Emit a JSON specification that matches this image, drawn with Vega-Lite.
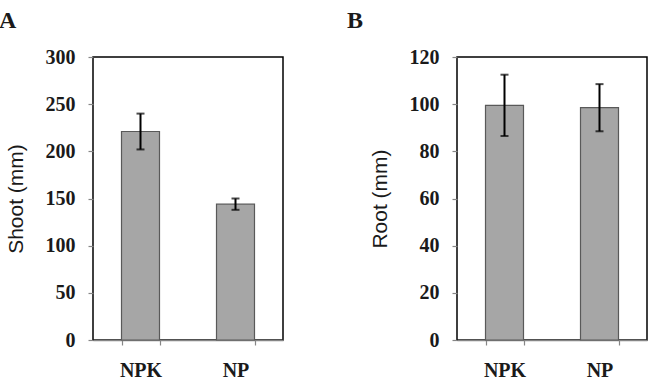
{
  "$schema": "https://vega.github.io/schema/vega-lite/v6.json",
  "background": "white",
  "padding": {"left": -2, "top": 8, "right": 5, "bottom": 0},
  "spacing": 62,
  "datasets": {
    "shootLength": [
      {"treatment": "NPK", "mean": 221, "err": 19},
      {"treatment": "NP", "mean": 144, "err": 6}
    ],
    "rootLength": [
      {"treatment": "NPK", "mean": 99.5, "err": 13},
      {"treatment": "NP", "mean": 98.5, "err": 10}
    ]
  },
  "config": {
    "view": {"stroke": "black", "strokeWidth": 1.5},
    "axis": {
      "labelFont": "Liberation Serif",
      "labelFontWeight": "bold",
      "labelFontSize": 20,
      "labelColor": "#1a1a1a",
      "titleFont": "Liberation Sans",
      "titleFontWeight": "normal",
      "titleFontSize": 21,
      "titleColor": "#1a1a1a",
      "tickColor": "#868686",
      "tickSize": 5,
      "tickWidth": 1.2,
      "grid": false
    },
    "axisX": {
      "domainColor": "#868686",
      "domainWidth": 1.5,
      "labelPadding": 15,
      "labelAngle": 0,
      "tickBand": "extent",
      "title": null
    },
    "axisY": {
      "domain": false,
      "labelPadding": 13,
      "titlePadding": 19
    },
    "title": {
      "font": "Liberation Serif",
      "fontWeight": "bold",
      "fontSize": 24,
      "color": "#1a1a1a",
      "anchor": "start",
      "frame": "bounds",
      "offset": 14
    }
  },
  "hconcat": [
    {
      "title": {"text": "A", "dx": -6},
      "width": 190,
      "height": 283,
      "data": {"name": "shootLength"},
      "encoding": {
        "x": {
          "field": "treatment",
          "type": "nominal",
          "sort": ["NPK", "NP"],
          "scale": {"paddingInner": 0.6, "paddingOuter": 0.3}
        }
      },
      "layer": [
        {
          "mark": {"type": "bar", "color": "#a6a6a6", "stroke": "#595959", "strokeWidth": 1.2},
          "encoding": {
            "y": {
              "field": "mean",
              "type": "quantitative",
              "title": "Shoot (mm)",
              "scale": {"domain": [0, 300], "nice": false},
              "axis": {"values": [0, 50, 100, 150, 200, 250, 300]}
            }
          }
        },
        {
          "mark": {"type": "errorbar", "ticks": true, "size": 8, "thickness": 2, "color": "black"},
          "encoding": {
            "y": {"field": "mean", "type": "quantitative", "title": "Shoot (mm)"},
            "yError": {"field": "err"}
          }
        }
      ]
    },
    {
      "title": {"text": "B", "dx": -22},
      "width": 190,
      "height": 283,
      "data": {"name": "rootLength"},
      "encoding": {
        "x": {
          "field": "treatment",
          "type": "nominal",
          "sort": ["NPK", "NP"],
          "scale": {"paddingInner": 0.6, "paddingOuter": 0.3}
        }
      },
      "layer": [
        {
          "mark": {"type": "bar", "color": "#a6a6a6", "stroke": "#595959", "strokeWidth": 1.2},
          "encoding": {
            "y": {
              "field": "mean",
              "type": "quantitative",
              "title": "Root (mm)",
              "scale": {"domain": [0, 120], "nice": false},
              "axis": {"values": [0, 20, 40, 60, 80, 100, 120]}
            }
          }
        },
        {
          "mark": {"type": "errorbar", "ticks": true, "size": 8, "thickness": 2, "color": "black"},
          "encoding": {
            "y": {"field": "mean", "type": "quantitative", "title": "Root (mm)"},
            "yError": {"field": "err"}
          }
        }
      ]
    }
  ]
}
